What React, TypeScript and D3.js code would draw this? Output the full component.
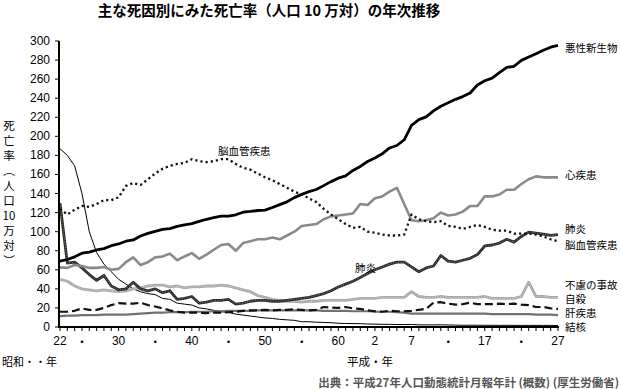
import React from "react";
import * as d3 from "d3";

// 1947 (昭和22) .. 2015 (平成27)
const years = d3.range(1947, 2016);

const cancer = [
  69.0, 70.8, 73.6,
  77.4, 78.5, 80.8, 82.2, 85.3, 87.1, 90.0, 91.3, 95.5, 98.2,
  100.4, 102.3, 103.2, 105.5, 107.2, 108.4, 110.8, 113.0, 114.8, 116.4,
  116.3, 117.7, 120.4, 121.2, 122.2, 122.6, 125.3, 128.4, 131.3, 135.7,
  139.1, 142.0, 144.2, 148.3, 152.5, 156.1, 158.5, 164.2, 168.4, 173.6,
  177.2, 181.7, 187.8, 190.4, 196.4, 211.6, 217.5, 220.4, 226.7, 231.6,
  235.2, 238.8, 241.7, 245.4, 253.9, 258.3, 261.0, 266.9, 272.3, 273.5,
  279.7, 283.2, 286.6, 290.3, 293.5, 295.5,
];

const heart = [
  62.5, 62, 65,
  64, 62, 62, 63, 60, 61, 68, 73, 65, 68,
  73, 74, 77, 70, 74, 77.5, 71.5, 76, 81, 86,
  87, 80, 88, 90, 92, 92, 94, 92, 96, 100,
  106, 107, 108, 113, 116, 117, 118, 119, 129, 128,
  135, 137, 142, 146, 129, 112, 111, 112, 114, 120,
  117, 118, 121, 127, 127, 137, 137, 139, 144, 144,
  150, 155, 158, 157, 157, 157,
];

const cerebro = [
  124, 118, 123,
  127, 126, 129, 133, 133, 136, 148, 151, 149, 155,
  161, 166, 169, 171, 172, 176, 174, 173, 174, 176,
  176, 171, 167, 165, 161, 157, 154, 150, 146, 142,
  139, 135, 131, 124, 118, 113, 108, 104, 105, 100,
  99, 97, 96, 96, 97, 118, 113, 111, 110, 111,
  106, 105, 103, 105, 107, 105, 102, 101, 101, 98,
  98, 98, 97, 95, 92, 90,
];

const pneumonia = [
  130, 67, 68,
  62, 55, 49, 54, 43, 39, 40, 47, 40, 38,
  40, 36, 38, 29, 30, 32, 25, 26, 28, 28,
  29, 24, 25, 27, 28, 28, 27, 27, 28, 29,
  30, 31, 33, 35, 38, 42, 45, 48, 52, 56,
  60, 63, 66, 68, 68, 63, 58, 62, 64, 75,
  69, 68, 70, 72, 76, 85, 86, 88, 92, 89,
  95, 99.5, 98.5, 97.5, 96, 97,
];

const accident = [
  50, 48, 43,
  40, 39, 38, 39, 38, 37, 38, 40, 41, 43,
  44, 44, 42, 43, 41, 42, 42, 43, 43, 44,
  43, 41, 39, 37, 33, 31, 29, 28, 27, 27,
  26, 27, 27, 28, 28, 28, 28, 29, 30, 30,
  30, 31, 31, 31, 31, 37, 32, 31, 31, 32,
  31, 31, 31, 31, 31, 32, 30, 30, 30, 30,
  32, 47, 32, 32, 31, 31,
];

const suicide = [
  16, 16, 17,
  19.5, 18, 18, 20, 23, 25, 24.5, 24.5, 25.5, 23,
  21.5, 19.5, 17.5, 16, 15, 15, 15, 14.5, 15, 15,
  15.5, 16, 17, 17.5, 17.5, 18, 17.5, 18, 18, 18.5,
  18, 17.5, 18, 21, 20.5, 20, 21, 19.5, 19, 17.5,
  16.5, 16, 17, 16.5, 16.5, 17, 18, 19, 25.5, 26,
  24.5, 23.5, 24, 25.5, 24, 24, 24, 24.5, 24, 24.5,
  23.5, 23, 21, 21, 19.5, 19,
];

const liver = [
  11.5, 12, 12,
  12.5, 12.5, 12.5, 13, 13, 13, 13, 13.5, 14, 14.5,
  15, 15, 15.5, 15.5, 15.5, 16, 16, 16, 16.5, 16.5,
  17, 17, 17, 17, 17.5, 17.5, 17.5, 17.5, 17.5, 17.5,
  17.5, 17.5, 17.5, 17, 17, 17, 17, 16.5, 16.5, 16.5,
  16, 16, 16, 15.5, 15, 14, 14, 14, 14, 14,
  14, 14, 14, 14, 14, 14, 13.5, 13.5, 13.5, 13.5,
  13.5, 13.5, 13, 13, 13, 12.5,
];

const tuberculosis = [
  187, 180, 169,
  140, 100, 78, 66, 58, 50, 45, 40, 37, 35,
  34, 30, 29, 25, 24, 23, 20, 19, 17.5, 16,
  15.4, 13.5, 12.5, 11.5, 10.5, 9.5, 9, 8, 7.5, 7,
  5.5, 5.5, 5, 4.8, 4.5, 3.9, 3.7, 3.6, 3.5, 3.1,
  3.0, 2.8, 2.8, 2.6, 2.5, 2.6, 2.3, 2.2, 2.2, 2.3,
  2.1, 2.0, 1.8, 1.9, 1.8, 1.8, 1.8, 1.7, 1.8, 1.7,
  1.7, 1.7, 1.7, 1.7, 1.7, 1.5,
];

const yTicks = d3.range(0, 301, 20);
const xLabelYears = [1947, 1950, 1955, 1960, 1965, 1970, 1975, 1980, 1985, 1990, 1995, 2000, 2005, 2010, 2015];
const xLabels = ["22", "・", "30", "・", "40", "・", "50", "・", "60", "2", "7", "・", "17", "・", "27"];

const endLabels = ["悪性新生物", "心疾患", "肺炎", "脳血管疾患", "不慮の事故", "自殺", "肝疾患", "結核"];
const endLabelY = [47, 174, 228, 244, 284, 298, 312, 326];

const yTitle = ["死", "亡", "率", "︵", "人", "口", "10", "万", "対", "︶"];

const W = 621;
const H = 389;
const x = d3.scaleLinear().domain([1947, 2015]).range([60, 558]);
const y = d3.scaleLinear().domain([0, 300]).range([327, 41]);

const line = d3
  .line<number>()
  .x((_, i) => x(years[i]))
  .y((d) => y(d));

const JP = "'Noto Sans CJK JP', 'Noto Sans', sans-serif";
const NUM = "'Liberation Sans', Arial, sans-serif";

interface LineStyle {
  data: number[];
  stroke: string;
  width: number;
  dash?: string;
  overlay?: string;
}

const series: LineStyle[] = [
  { data: tuberculosis, stroke: "#000", width: 1 },
  { data: liver, stroke: "#707070", width: 2.2 },
  { data: suicide, stroke: "#111", width: 2.2, dash: "8,4" },
  { data: accident, stroke: "#a8a8a8", width: 2.8, overlay: "#d8d8d8" },
  { data: pneumonia, stroke: "#2a2a2a", width: 2.8, overlay: "#8a8a8a" },
  { data: heart, stroke: "#8a8a8a", width: 2.6 },
  { data: cerebro, stroke: "#111", width: 2.3, dash: "2.2,3" },
  { data: cancer, stroke: "#000", width: 2.8 },
];

export default function App() {
  return (
    <svg
      width={W}
      height={H}
      style={{ position: "absolute", left: 0, top: 0, background: "#fff" }}
    >
      <text
        x={269}
        y={16}
        textAnchor="middle"
        fontFamily={JP}
        fontWeight="bold"
        fontSize={14.5}
      >
        主な死因別にみた死亡率（人口 10 万対）の年次推移
      </text>

      {/* y axis title, stacked vertically */}
      {yTitle.map((c, i) => (
        <text
          key={i}
          x={9}
          y={127 + i * 15}
          textAnchor="middle"
          dominantBaseline="middle"
          fontFamily={JP}
          fontSize={11.5}
        >
          {c}
        </text>
      ))}

      {/* series */}
      {series.map((s, i) => (
        <g key={i} fill="none" strokeLinejoin="round">
          <path
            d={line(s.data) ?? ""}
            stroke={s.stroke}
            strokeWidth={s.width}
            strokeDasharray={s.dash}
          />
          {s.overlay && (
            <path
              d={line(s.data) ?? ""}
              stroke={s.overlay}
              strokeWidth={0.9}
              strokeDasharray="1,1.6"
            />
          )}
        </g>
      ))}

      {/* y axis */}
      <line x1={59} x2={59} y1={y(300)} y2={y(0) + 1} stroke="#000" strokeWidth={2} />
      {yTicks.map((t) => (
        <g key={t}>
          <line x1={55} x2={59} y1={y(t)} y2={y(t)} stroke="#000" strokeWidth={1} />
          <text
            x={50}
            y={y(t)}
            textAnchor="end"
            dominantBaseline="central"
            fontFamily={NUM}
            fontSize={12}
          >
            {t}
          </text>
        </g>
      ))}

      {/* x axis */}
      <line x1={58} x2={559} y1={y(0)} y2={y(0)} stroke="#000" strokeWidth={2} />
      {years.map((yr) => (
        <line
          key={yr}
          x1={x(yr)}
          x2={x(yr)}
          y1={y(0)}
          y2={y(0) + 4}
          stroke="#000"
          strokeWidth={1}
        />
      ))}
      {xLabelYears.map((yr, i) => (
        <text
          key={yr}
          x={x(yr)}
          y={341}
          textAnchor="middle"
          dominantBaseline="central"
          fontFamily={xLabels[i] === "・" ? JP : NUM}
          fontSize={12}
        >
          {xLabels[i]}
        </text>
      ))}
      <text x={2} y={361} dominantBaseline="central" fontFamily={JP} fontSize={11}>
        昭和・・年
      </text>
      <text x={347} y={361} dominantBaseline="central" fontFamily={JP} fontSize={11.5}>
        平成・年
      </text>

      {/* labels */}
      {endLabels.map((l) => (
        <text
          key={l}
          x={565}
          y={endLabelY[endLabels.indexOf(l)]}
          dominantBaseline="central"
          fontFamily={JP}
          fontSize={10.5}
        >
          {l}
        </text>
      ))}
      <text x={218} y={150} dominantBaseline="central" fontFamily={JP} fontSize={10.5}>
        脳血管疾患
      </text>
      <text x={355} y={267} dominantBaseline="central" fontFamily={JP} fontSize={10.5}>
        肺炎
      </text>

      <text
        x={619}
        y={382}
        textAnchor="end"
        dominantBaseline="central"
        fontFamily={JP}
        fontWeight="bold"
        fontSize={11.5}
        fill="#555"
      >
        出典：平成27年人口動態統計月報年計 (概数) (厚生労働省)
      </text>
    </svg>
  );
}
